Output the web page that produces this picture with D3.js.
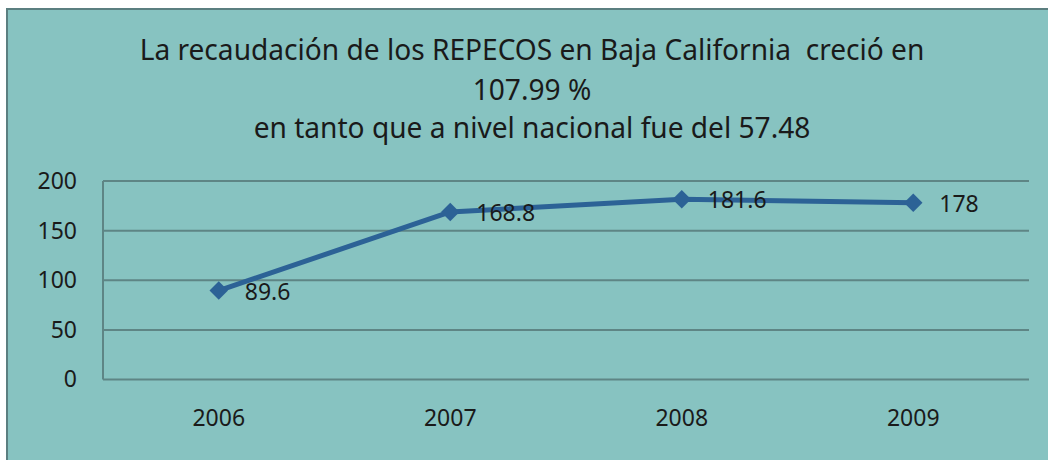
<!DOCTYPE html>
<html>
<head>
<meta charset="utf-8">
<script src="https://cdn.jsdelivr.net/npm/d3@7"></script>
<style>
  html, body { margin: 0; padding: 0; background: #ffffff; }
  svg { display: block; }
  text { font-family: "Noto Sans", "Open Sans", sans-serif; fill: #1a1a1a; }
</style>
</head>
<body>
<svg id="chart" width="1048" height="460"></svg>
<script>
const categories = ["2006", "2007", "2008", "2009"];
const values = [89.6, 168.8, 181.6, 178];
const labels = ["89.6", "168.8", "181.6", "178"];
const yTicks = [0, 50, 100, 150, 200];
const titleLines = [
  "La recaudación de los REPECOS en Baja California  creció en",
  "107.99 %",
  "en tanto que a nivel nacional fue del 57.48"
];

const svg = d3.select("#chart");
const W = 1048, H = 460;

svg.append("rect")
  .attr("x", 7).attr("y", 9)
  .attr("width", W).attr("height", H)
  .attr("fill", "#87c3c1")
  .attr("stroke", "#5b7f80")
  .attr("stroke-width", 2);

const plot = { left: 103, right: 1029, top: 181, bottom: 379.5 };

const x = d3.scaleBand().domain(categories).range([plot.left, plot.right]);
const y = d3.scaleLinear().domain([0, 200]).range([plot.bottom, plot.top]);

// gridlines
svg.append("g").selectAll("line").data(yTicks).join("line")
  .attr("x1", plot.left).attr("x2", plot.right)
  .attr("y1", d => y(d)).attr("y2", d => y(d))
  .attr("stroke", "#5e8585").attr("stroke-width", 2);
svg.append("line")
  .attr("x1", plot.left).attr("x2", plot.left)
  .attr("y1", plot.top).attr("y2", plot.bottom)
  .attr("stroke", "#5e8585").attr("stroke-width", 2);

// y axis labels
const yAxis = d3.axisLeft(y).tickValues(yTicks).tickSize(0).tickPadding(26);
const gy = svg.append("g").attr("transform", `translate(${plot.left},0)`).call(yAxis);
gy.select(".domain").remove();
gy.selectAll("text").attr("font-size", 23).attr("fill", "#1a1a1a")
  .attr("font-family", "Noto Sans, sans-serif");

// x axis labels
const xAxis = d3.axisBottom(x).tickSize(0).tickPadding(30);
const gx = svg.append("g").attr("transform", `translate(0,${plot.bottom})`).call(xAxis);
gx.select(".domain").remove();
gx.selectAll("text").attr("font-size", 23).attr("fill", "#1a1a1a")
  .attr("font-family", "Noto Sans, sans-serif");

const cx = d => x(d) + x.bandwidth() / 2;
const pts = categories.map((c, i) => [cx(c), y(values[i])]);

svg.append("path")
  .attr("d", d3.line()(pts))
  .attr("fill", "none")
  .attr("stroke", "#2c6296")
  .attr("stroke-width", 5)
  .attr("stroke-linejoin", "round");

svg.append("g").selectAll("path").data(pts).join("path")
  .attr("d", d3.symbol(d3.symbolSquare, 170)())
  .attr("transform", d => `translate(${d[0]},${d[1]}) rotate(45)`)
  .attr("fill", "#2c6296");

svg.append("g").selectAll("text").data(pts).join("text")
  .attr("x", d => d[0] + 26)
  .attr("y", d => d[1] + 9)
  .attr("font-size", 23)
  .text((d, i) => labels[i]);

// title
const baselines = [60, 100, 138];
const tg = svg.append("g");
const tt = tg.selectAll("text").data(titleLines).join("text")
  .attr("x", 0)
  .attr("y", 0)
  .attr("text-anchor", "middle")
  .attr("font-size", 29)
  .attr("xml:space", "preserve")
  .style("white-space", "pre")
  .text(d => d);
const w0 = tt.nodes()[0].getComputedTextLength();
const sx = 785 / w0;
tt.attr("transform", (d, i) => `translate(532,${baselines[i]}) scale(${sx},1)`);
</script>
</body>
</html>
